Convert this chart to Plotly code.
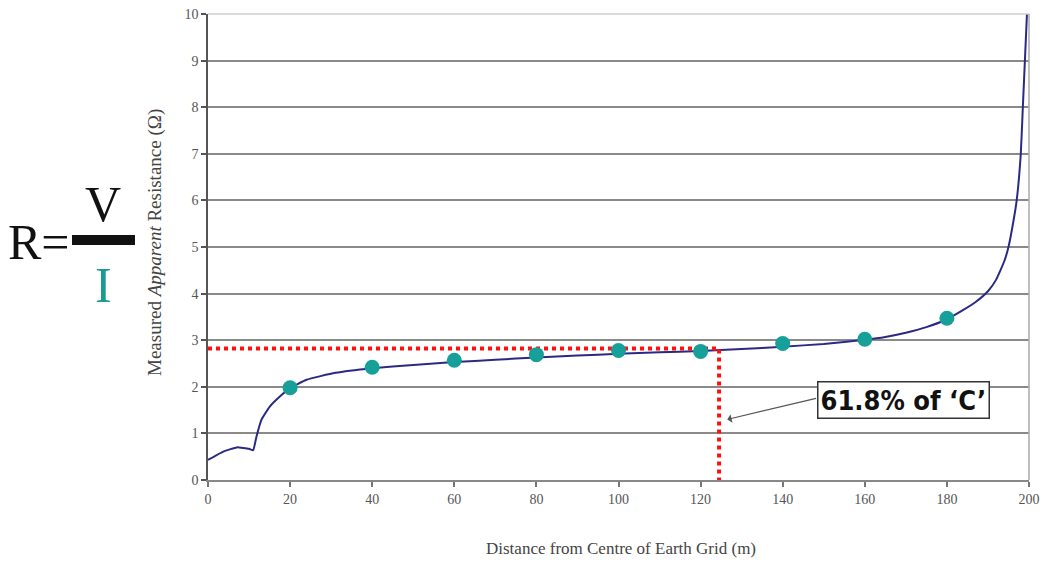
import plotly.graph_objects as go

# ---- data ----
curve_x = [0, 2, 4, 7, 10, 11, 11.8, 13, 15, 17.5, 20, 24, 31, 40, 50, 60, 70, 80, 90, 100,
           110, 120, 130, 140, 150, 160, 165, 170, 175, 180, 184, 187, 190, 192, 194, 195,
           196, 197, 198, 198.5, 199, 199.5]
curve_y = [0.43, 0.53, 0.62, 0.70, 0.67, 0.64, 0.93, 1.29, 1.57, 1.79, 1.97, 2.15, 2.30, 2.40,
           2.47, 2.53, 2.58, 2.63, 2.67, 2.71, 2.74, 2.77, 2.81, 2.86, 2.92, 3.01, 3.07, 3.16,
           3.28, 3.45, 3.65, 3.82, 4.05, 4.3, 4.7, 5.0, 5.45, 6.0, 7.0, 8.0, 9.0, 10.0]

meas_x = [20, 40, 60, 80, 100, 120, 140, 160, 180]
meas_y = [1.98, 2.42, 2.57, 2.69, 2.78, 2.76, 2.93, 3.02, 3.47]

ref_x = 124.5      # 61.8% point
ref_y = 2.82

x_ticks = [0, 20, 40, 60, 80, 100, 120, 140, 160, 180, 200]
y_ticks = [0, 1, 2, 3, 4, 5, 6, 7, 8, 9, 10]

# ---- layout (page body has an 8px margin on every side) ----
OFF = 8
WIN_W, WIN_H = 1049, 568
PL, PR, PT, PB = 208, 1029, 14, 480   # plot area in window pixels
W, H = WIN_W - 2 * OFF, WIN_H - 2 * OFF
ML, MT = PL - OFF, PT - OFF
MR = W - ML - (PR - PL)
MB = H - MT - (PB - PT)


def px(x):
    return (x - PL) / (PR - PL)


def py(y):
    return (PB - y) / (PB - PT)


serif = "Liberation Serif, Times New Roman, serif"

fig = go.Figure()

fig.add_trace(go.Scatter(
    x=curve_x, y=curve_y, mode="lines",
    line=dict(color="#2a2a86", width=2, shape="spline", smoothing=0.4),
    hoverinfo="skip", showlegend=False))

# red dotted reference lines
fig.add_trace(go.Scatter(
    x=[0, ref_x, ref_x], y=[ref_y, ref_y, 0], mode="lines",
    line=dict(color="#ff1010", width=4, dash="dot"),
    showlegend=False))

fig.add_trace(go.Scatter(
    x=meas_x, y=meas_y, mode="markers",
    marker=dict(color="#17a09a", size=15, line=dict(width=0)),
    showlegend=False))

fig.update_layout(
    width=W, height=H,
    margin=dict(l=ML, r=MR, t=MT, b=MB, autoexpand=False),
    paper_bgcolor="white", plot_bgcolor="white",
    showlegend=False,
    xaxis=dict(
        range=[0, 200], tickvals=x_ticks, ticks="outside", ticklen=5,
        tickcolor="#777", tickwidth=1.5, automargin=False, ticklabeloverflow="allow",
        showgrid=False, zeroline=False,
        showline=True, linecolor="#888", linewidth=2,
        tickfont=dict(family=serif, size=14, color="#555"),
    ),
    yaxis=dict(
        range=[0, 10], tickvals=y_ticks, ticks="outside", ticklen=5,
        tickcolor="#555", tickwidth=1.5, automargin=False, ticklabeloverflow="allow",
        showgrid=True, gridcolor="#8a8a8a", gridwidth=1.8,
        zeroline=False,
        showline=True, linecolor="#555", linewidth=1.5,
        tickfont=dict(family=serif, size=14, color="#555"),
    ),
)

# axis titles
fig.add_annotation(x=px(155), y=py(243), xref="paper", yref="paper",
                   text="Measured <i>Apparent</i> Resistance (Ω)", textangle=-90,
                   showarrow=False, font=dict(family=serif, size=19, color="#444"),
                   xanchor="center", yanchor="middle")
fig.add_annotation(x=px(621), y=py(548), xref="paper", yref="paper",
                   text="Distance from Centre of Earth Grid (m)",
                   showarrow=False, font=dict(family=serif, size=17, color="#444"),
                   xanchor="center", yanchor="middle")

# light top / right border
fig.add_shape(type="line", xref="paper", yref="paper", x0=0, x1=1, y0=1, y1=1,
              line=dict(color="#cfcfcf", width=1.5))
fig.add_shape(type="line", xref="paper", yref="paper", x0=1, x1=1, y0=0, y1=1,
              line=dict(color="#aaaaaa", width=1.5))

# arrow + label box
fig.add_annotation(
    x=126.5, y=1.3, xref="x", yref="y",
    ax=148.5, ay=1.76, axref="x", ayref="y",
    text="", showarrow=True, arrowhead=1, arrowsize=1.2, arrowwidth=1.2,
    arrowcolor="#555")
fig.add_annotation(
    x=px(903), y=py(400), xref="paper", yref="paper",
    text="<b>61.8% of ‘C’</b>", showarrow=False,
    font=dict(family="Liberation Sans Narrow, Arial Narrow, DejaVu Sans Condensed, sans-serif",
              size=27, color="#111"),
    bgcolor="white", bordercolor="#333", borderwidth=1.5, borderpad=2,
    xanchor="center", yanchor="middle")

# formula R = V / I
fig.add_annotation(x=px(39), y=py(242), xref="paper", yref="paper",
                   text="R=", showarrow=False,
                   font=dict(family=serif, size=50, color="#111"),
                   xanchor="center", yanchor="middle")
fig.add_annotation(x=px(103), y=py(204), xref="paper", yref="paper",
                   text="V", showarrow=False,
                   font=dict(family=serif, size=50, color="#111"),
                   xanchor="center", yanchor="middle")
fig.add_annotation(x=px(103), y=py(285), xref="paper", yref="paper",
                   text="I", showarrow=False,
                   font=dict(family=serif, size=50, color="#1a9a94"),
                   xanchor="center", yanchor="middle")
fig.add_shape(type="rect", xref="paper", yref="paper",
              x0=px(72), x1=px(135), y0=py(245), y1=py(235),
              fillcolor="#111", line=dict(width=0))

fig.write_html("out.html")
